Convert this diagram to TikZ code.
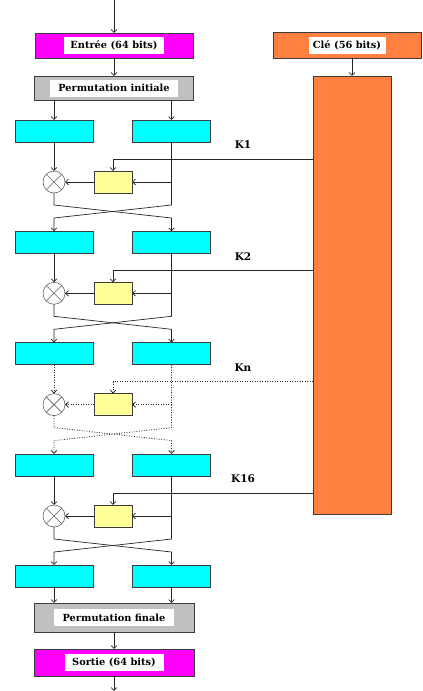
\documentclass[tikz,border=0pt]{standalone}
\usepackage{fontspec}
\setmainfont{DejaVu Serif}
\usetikzlibrary{arrows.meta,calc}
\definecolor{mag}{RGB}{255,0,255}
\definecolor{gr}{RGB}{192,192,192}
\definecolor{cy}{RGB}{0,255,255}
\definecolor{yel}{RGB}{255,255,153}
\definecolor{ora}{RGB}{255,128,64}
\definecolor{edge}{RGB}{60,60,60}
\begin{document}
\begin{tikzpicture}[x=1pt,y=-1pt,
 box/.style={draw=edge,line width=0.8pt,inner sep=0pt,outer sep=0pt},
 lbl/.style={fill=white,inner sep=0pt,minimum height=17pt,font=\bfseries\fontsize{9.8}{10}\selectfont},
 cbox/.style={box,fill=cy,minimum width=78pt,minimum height=22pt},
 ybox/.style={box,fill=yel,minimum width=38pt,minimum height=22pt},
 xo/.style={draw=edge!80,line width=0.6pt,circle,minimum size=22pt,inner sep=0pt,outer sep=0pt,fill=white},
 arr/.style={-{Straight Barb[length=3pt,width=5.5pt]}},
 ln/.style={line width=0.7pt,draw=black!85},
 dotln/.style={line width=0.8pt,dash pattern=on 0.9pt off 1.6pt},
 klbl/.style={font=\bfseries\fontsize{10.5}{11}\selectfont}]
\useasboundingbox (0,0) rectangle (423,691);

% top column
\coordinate (top) at (114,0);
\node[box,fill=mag,minimum width=158pt,minimum height=25pt] (in) at (114,45.5) {};
\node[lbl,minimum width=100pt] (inl) at (in) {Entrée (64 bits)};
\node[box,fill=gr,minimum width=159pt,minimum height=24pt] (pi) at (114,88) {};
\node[lbl,minimum width=128pt] (pil) at (pi) {Permutation initiale};
\draw[ln,arr] (top) -- (in.north);
\draw[ln,arr] (in.south) -- (pi.north);

% key
\node[box,fill=ora,minimum width=148pt,minimum height=26pt] (cle) at (347,45) {};
\node[lbl,minimum width=77pt] (clel) at (cle) {Clé (56 bits)};
\node[box,fill=ora,minimum width=78pt,minimum height=438pt] (key) at (352,295) {};
\draw[ln,arr] (cle.south -| key.north) -- (key.north);

% rounds
\foreach \i/\T/\k in {1/120/K1,2/231.3/K2,3/342.6/Kn,4/454/K16}{
  \ifnum\i=3 \tikzset{rl/.style={dotln}}\else\tikzset{rl/.style={}}\fi
  \node[cbox] (L\i) at (54,\T+11) {};
  \node[cbox] (R\i) at (171.5,\T+11) {};
  \node[xo] (X\i) at (54,\T+62) {};
  \draw[edge!80,line width=0.6pt] (X\i.north west) -- (X\i.south east) (X\i.north east) -- (X\i.south west);
  \node[ybox] (F\i) at (113,\T+62) {};
  \coordinate (k\i) at (key.west |- 0,\T+39);
  \node[klbl] (kl\i) at (243,\T+25) {\k};
  \draw[ln,rl,arr] (k\i) -| (F\i);
  \draw[ln,rl,arr] (L\i) -- (X\i);
  \draw[ln,rl,arr] (R\i.south |- F\i) -- (F\i.east);
  \draw[ln,rl,arr] (F\i.west) -- (X\i.east);
}
\node[cbox] (L5) at (54,576) {};
\node[cbox] (R5) at (171.5,576) {};

\draw[ln,arr] (pi.south -| L1) -- (L1);
\draw[ln,arr] (pi.south -| R1) -- (R1);

\foreach \i/\j in {1/2,2/3,3/4,4/5}{
  \ifnum\i=3 \tikzset{rl/.style={dotln}}\else\tikzset{rl/.style={}}\fi
  \coordinate (a\i) at ($(X\i.south)+(0,12)$);
  \coordinate (b\i) at (R\i.south |- a\i);
  \coordinate (c\i) at ($(a\i)+(0,13)$);
  \coordinate (e\i) at ($(b\i)+(0,13)$);
  \draw[ln,rl,arr] (X\i.south) -- (a\i) -- (e\i) -- (R\j.north);
  \draw[ln,rl,arr] (R\i.south) -- (b\i) -- (c\i) -- (L\j.north);
}

% bottom column
\node[box,fill=gr,minimum width=160pt,minimum height=29pt] (pf) at (114,617.5) {};
\node[lbl,minimum width=120pt] (pfl) at (pf) {Permutation finale};
\node[box,fill=mag,minimum width=160pt,minimum height=27pt] (out) at (114,662.5) {};
\node[lbl,minimum width=99pt] (outl) at (out) {Sortie (64 bits)};
\coordinate (bot) at (114,691);
\draw[ln,arr] (L5) -- (L5 |- pf.north);
\draw[ln,arr] (R5) -- (R5 |- pf.north);
\draw[ln,arr] (pf.south) -- (out.north);
\draw[ln,arr] (out.south) -- (bot);
\end{tikzpicture}
\end{document}
